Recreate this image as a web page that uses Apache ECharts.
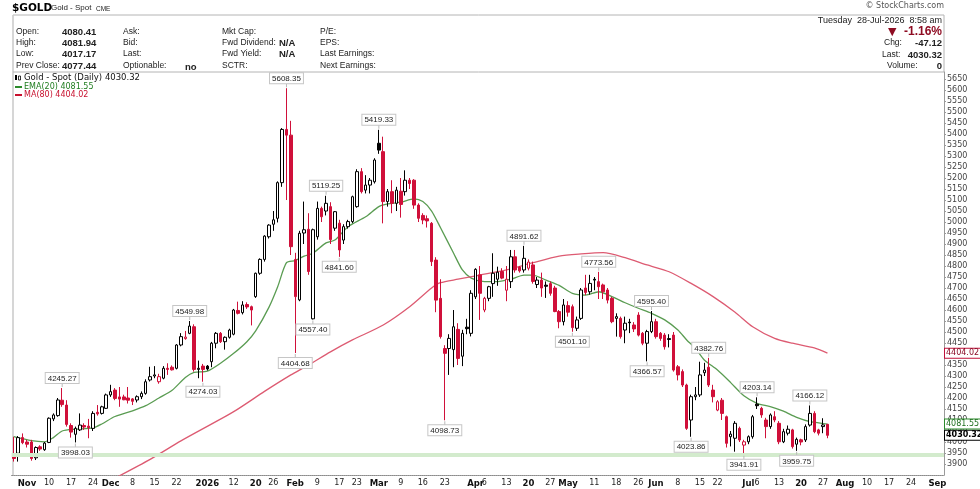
<!DOCTYPE html>
<html>
<head>
<meta charset="utf-8">
<script src="https://cdn.jsdelivr.net/npm/echarts@6.0.0/dist/echarts.min.js"></script>
<style>
  html, body { margin: 0; padding: 0; background: #fff; }
  #chart { width: 980px; height: 489px; }
</style>
</head>
<body>
<div id="chart"></div>
<script>
// trading calendar (weekdays minus US market holidays)
const holidays = ['2025-11-27', '2025-12-25', '2026-01-01', '2026-01-19', '2026-02-16',
  '2026-04-03', '2026-05-25', '2026-06-19', '2026-07-03']
const dayCount = 212
const dates = []
for (let d = new Date(Date.UTC(2025, 9, 29)); dates.length < dayCount; d.setUTCDate(d.getUTCDate() + 1)) {
  const s = d.toISOString().slice(0, 10)
  const wd = d.getUTCDay()
  if (wd === 0 || wd === 6 || holidays.includes(s)) continue
  dates.push(s)
}

const xTicks = [
  ['2025-11-03', 'Nov'], ['2025-11-10', '10'], ['2025-11-17', '17'], ['2025-11-24', '24'],
  ['2025-12-01', 'Dec'], ['2025-12-08', '8'], ['2025-12-15', '15'], ['2025-12-22', '22'],
  ['2026-01-02', '2026'], ['2026-01-12', '12'], ['2026-01-20', '20'], ['2026-01-26', '26'],
  ['2026-02-02', 'Feb'], ['2026-02-09', '9'], ['2026-02-17', '17'], ['2026-02-23', '23'],
  ['2026-03-02', 'Mar'], ['2026-03-09', '9'], ['2026-03-16', '16'], ['2026-03-23', '23'],
  ['2026-04-01', 'Apr'], ['2026-04-06', '6'], ['2026-04-13', '13'], ['2026-04-20', '20'], ['2026-04-27', '27'],
  ['2026-05-01', 'May'], ['2026-05-11', '11'], ['2026-05-18', '18'], ['2026-05-26', '26'],
  ['2026-06-01', 'Jun'], ['2026-06-08', '8'], ['2026-06-15', '15'], ['2026-06-22', '22'],
  ['2026-07-01', 'Jul'], ['2026-07-06', '6'], ['2026-07-13', '13'], ['2026-07-20', '20'], ['2026-07-27', '27'],
  ['2026-08-03', 'Aug'], ['2026-08-10', '10'], ['2026-08-17', '17'], ['2026-08-24', '24'],
  ['2026-09-01', 'Sep'],
]

// daily OHLC, Oct 29 2025 .. Jul 28 2026
const open = [
  3935, 3949, 4020, 4000, 4000, 3928, 3978, 3965, 3998, 4105,
  4120, 4190, 4168, 4075, 4035, 4055, 4075, 4072, 4062, 4135,
  4130, 4153, 4214, 4236, 4205, 4205, 4200, 4196, 4191, 4206,
  4221, 4282, 4300, 4274, 4290, 4335, 4340, 4335, 4441, 4470,
  4494, 4524, 4330, 4345, 4345, 4365, 4449, 4494, 4456, 4476,
  4490, 4598, 4588, 4625, 4615, 4661, 4767, 4830, 4933, 4990,
  5017, 5179, 5421, 5395, 4830, 4646, 4950, 4967, 4560, 4933,
  5062, 5050, 5070, 4972, 4995, 4918, 4979, 5002, 5070, 5229,
  5145, 5168, 5183, 5358, 5320, 5093, 5138, 5085, 5140, 5138,
  5190, 5190, 5077, 5030, 5015, 4994, 4827, 4653, 4425, 4425,
  4420, 4512, 4390, 4522, 4494, 4660, 4760, 4600, 4653, 4720,
  4740, 4775, 4690, 4729, 4842, 4795, 4782, 4790, 4805, 4716,
  4736, 4713, 4720, 4700, 4593, 4547, 4620, 4615, 4517, 4562,
  4700, 4683, 4740, 4729, 4714, 4691, 4653, 4562, 4562, 4509,
  4545, 4532, 4577, 4494, 4449, 4502, 4547, 4494, 4486, 4470,
  4486, 4342, 4320, 4259, 4100, 4206, 4214, 4315, 4340, 4236,
  4145, 4190, 4115, 4024, 4017, 4062, 3986, 4001, 4024, 4172,
  4153, 4100, 4070, 4115, 4085, 4001, 4040, 4055, 3990, 4010,
  4009, 4077, 4130, 4055, 4070, 4080.41,
]
const high = [
  4024, 4027, 4039, 4010, 4010, 3980, 3985, 4000, 4112, 4130,
  4200, 4245.27, 4190, 4085, 4070, 4130, 4085, 4105, 4140, 4168,
  4165, 4220, 4260, 4245, 4250, 4215, 4250, 4200, 4212, 4230,
  4285, 4342, 4345, 4310, 4345, 4358, 4348, 4445, 4495, 4505,
  4549.98, 4535, 4370, 4355, 4350, 4455, 4500, 4500, 4480, 4515,
  4605, 4638, 4640, 4635, 4620, 4770, 4835, 4940, 4990, 5050,
  5185, 5427, 5608.35, 5460, 4860, 4960, 5093, 5040, 4970, 5093,
  5070, 5119.25, 5090, 5050, 5010, 4990, 5010, 5120, 5240, 5245,
  5213, 5200, 5290, 5419.33, 5388, 5150, 5190, 5160, 5200, 5235,
  5200, 5195, 5085, 5040, 5030, 5000, 4840, 4740, 4440, 4490,
  4600, 4540, 4510, 4560, 4690, 4790, 4800, 4660, 4710, 4858,
  4797, 4790, 4800, 4873, 4873, 4800, 4891.62, 4830, 4820, 4750,
  4770, 4730, 4730, 4710, 4600, 4650, 4640, 4625, 4570, 4700,
  4760, 4760, 4750, 4773.56, 4720, 4700, 4660, 4585, 4570, 4570,
  4560, 4545, 4590, 4500, 4510, 4595.40, 4560, 4500, 4495, 4490,
  4500, 4350, 4330, 4265, 4215, 4250, 4365, 4360, 4382.76, 4260,
  4190, 4200, 4120, 4050, 4095, 4070, 4010, 4030, 4123, 4203.14,
  4160, 4110, 4130, 4140, 4095, 4060, 4075, 4060, 4020, 4015,
  4080, 4166.12, 4140, 4060, 4108, 4081.94,
]
const low = [
  3911, 3911, 3990, 3975, 3915, 3918, 3960, 3960, 3995, 4095,
  4115, 4160, 4070, 4020, 3998.03, 4050, 4055, 4017, 4050, 4120,
  4125, 4150, 4205, 4190, 4160, 4190, 4175, 4168, 4180, 4195,
  4215, 4275, 4290, 4265, 4285, 4305, 4325, 4330, 4435, 4465,
  4490, 4320, 4290, 4274.03, 4325, 4340, 4426, 4450, 4420, 4470,
  4485, 4580, 4580, 4605, 4530, 4655, 4760, 4820, 4925, 4960,
  4998, 5160, 5100, 4850, 4404.68, 4640, 4900, 4760, 4557.40, 4920,
  5000, 5030, 4900, 4960, 4841.60, 4900, 4970, 4995, 5065, 5130,
  5130, 5130, 5175, 5310, 4994, 5070, 5040, 5050, 5020, 5120,
  5150, 5060, 5000, 4990, 4975, 4800, 4590, 4470, 4098.73, 4305,
  4340, 4350, 4345, 4490, 4480, 4650, 4555, 4590, 4640, 4660,
  4710, 4740, 4640, 4700, 4770, 4770, 4770, 4780, 4720, 4700,
  4660, 4655, 4665, 4590, 4517, 4530, 4570, 4501.10, 4505, 4555,
  4668, 4670, 4690, 4650, 4650, 4630, 4540, 4479, 4470, 4449,
  4495, 4500, 4480, 4440, 4366.57, 4495, 4470, 4460, 4420, 4430,
  4320, 4280, 4250, 4055, 4023.86, 4190, 4205, 4300, 4250, 4180,
  4140, 4100, 3975, 3980, 3956, 4000, 3941.91, 3990, 4015, 4150,
  4110, 4017, 4060, 4090, 3990, 3995, 4030, 3970, 3959.75, 3985,
  4000, 4070, 4040, 4030, 4040, 4017.17,
]
const close = [
  3925, 4020, 3997, 3990, 3925, 3975, 3968, 3995, 4108, 4123,
  4191, 4170, 4080, 4045, 4062, 4077, 4068, 4065, 4130, 4128,
  4160, 4214, 4229, 4198, 4195, 4192, 4190, 4185, 4206, 4221,
  4274, 4297, 4305, 4297, 4335, 4330, 4328, 4441, 4479, 4477,
  4527, 4330, 4335, 4330, 4332, 4449, 4494, 4456, 4476, 4509,
  4600, 4585, 4623, 4614, 4600, 4767, 4830, 4936, 4986, 5010,
  5179, 5421, 5395, 4888, 4661, 4949, 4965, 4775, 4965, 5062,
  5024, 5085, 4920, 5047, 4873, 4979, 5002, 5115, 5229, 5138,
  5168, 5190, 5282, 5327, 5093, 5138, 5085, 5145, 5080, 5190,
  5175, 5077, 5017, 5009, 5005, 4820, 4645, 4479, 4403, 4471,
  4524, 4380, 4494, 4515, 4676, 4785, 4676, 4653, 4706, 4767,
  4772, 4745, 4740, 4842, 4782, 4778, 4835, 4818, 4730, 4736,
  4700, 4708, 4676, 4593, 4547, 4623, 4590, 4520, 4555, 4691,
  4680, 4721, 4736, 4706, 4683, 4645, 4547, 4570, 4479, 4540,
  4542, 4514, 4486, 4449, 4502, 4547, 4479, 4471, 4433, 4466,
  4327, 4305, 4259, 4062, 4206, 4214, 4305, 4327, 4259, 4206,
  4183, 4130, 3994, 4036, 4085, 4009, 4001, 4024, 4115, 4165,
  4123, 4070, 4123, 4100, 4001, 4047, 4058, 3979, 4012, 4000,
  4070, 4130, 4047, 4040, 4077.44, 4030.32,
]

// EMA(20) and MA(80) as [day index, value]
const ema20 = [
  [0, 4024], [4, 4006], [7, 4001], [9, 4020], [11, 4050], [14, 4058], [18, 4064], [20, 4082],
  [23, 4116], [27, 4142], [30, 4165], [33, 4200], [36, 4235], [39, 4293], [41, 4316], [44, 4322],
  [47, 4358], [50, 4403], [53, 4456], [55, 4505], [58, 4612], [60, 4706], [62, 4815], [64, 4825],
  [66, 4845], [68, 4858], [71, 4905], [73, 4918], [76, 4979], [80, 5024], [83, 5070], [85, 5082],
  [88, 5090], [91, 5105], [93, 5093], [95, 5050], [97, 4975], [100, 4858], [102, 4782], [104, 4745],
  [107, 4729], [110, 4729], [113, 4740], [116, 4759], [118, 4759], [121, 4736], [124, 4712],
  [127, 4676], [130, 4668], [133, 4683], [136, 4661], [139, 4633], [142, 4608], [145, 4585],
  [148, 4555], [151, 4509], [153, 4464], [155, 4425], [157, 4373], [160, 4327], [163, 4270],
  [166, 4210], [169, 4176], [172, 4161], [175, 4140], [178, 4112], [181, 4093], [185, 4081.55],
]
const ma80 = [
  [22, 3825], [31, 3921], [38, 4005], [50, 4138], [57, 4230], [63, 4305], [67, 4350], [72, 4410],
  [77, 4464], [84, 4532], [90, 4615], [95, 4700], [97, 4724], [101, 4740], [106, 4759], [112, 4782],
  [118, 4815], [124, 4845], [129, 4855], [134, 4861], [139, 4838], [144, 4805], [149, 4774],
  [154, 4721], [159, 4661], [164, 4590], [168, 4524], [173, 4471], [177, 4449], [182, 4428],
  [185, 4404.02],
]

const supportLevel = 3942
const peakIdx = [11, 40, 62, 71, 83, 116, 133, 145, 158, 169, 181]
const troughIdx = [14, 43, 64, 68, 74, 98, 127, 144, 154, 166, 178]

const RED = '#d0103a'
const GREEN_LINE = '#5a9c52'
const RED_LINE = '#dd5b72'
const last = close.length - 1
const fmt = (v) => Number(v).toFixed(2)

const candles = open.map((o, i) => {
  const c = close[i]
  const prev = i > 0 ? close[i - 1] : o
  const col = c >= prev ? '#000' : RED
  const fill = c > o ? '#fff' : col
  return {
    value: [o, c, low[i], high[i]],
    itemStyle: { color: fill, color0: fill, borderColor: col, borderColor0: col, borderWidth: 1 },
  }
})

const tickMap = Object.fromEntries(xTicks)
const chg = close[last] - close[last - 1]
const pct = (chg / close[last - 1]) * 100

const chart = echarts.init(document.getElementById('chart'))

const T = (x, y, text, extra = {}) => ({
  type: 'text', x, y, silent: true,
  style: Object.assign({
    text, fill: '#222', font: '8.5px "Liberation Sans", Arial',
    align: 'left', verticalAlign: 'middle',
  }, extra),
})
const B = 'bold 9.5px "Liberation Sans", Arial'
const L = (x1, y1, x2, y2, color = '#b4b4b4', w = 1) => ({
  type: 'line', silent: true, shape: { x1, y1, x2, y2 }, style: { stroke: color, lineWidth: w },
})

const tag = (value, border, color, bold) => ({
  yAxis: value,
  lineStyle: { color: 'rgba(0,0,0,0)', width: 1 },
  label: {
    show: true, position: 'end', distance: 1,
    formatter: () => fmt(value),
    color, fontSize: 8, fontWeight: bold ? 'bold' : 'normal',
    fontFamily: 'DejaVu Sans',
    backgroundColor: '#fff', borderColor: border, borderWidth: 1, padding: [1, 1, 0, 1],
  },
})

chart.setOption({
  animation: false,
  backgroundColor: '#fff',
  grid: { left: 11.6, right: 36, top: 72, bottom: 14 },
  xAxis: {
    type: 'category',
    data: dates,
    boundaryGap: true,
    axisLine: { lineStyle: { color: '#8a8a8a', type: 'dotted' } },
    axisTick: { show: false },
    splitLine: { show: false },
    axisLabel: {
      interval: (idx, val) => tickMap[val] !== undefined,
      hideOverlap: false,
      formatter: (val) => {
        const t = tickMap[val] || ''
        return /^[A-Z]|^20/.test(t) ? `{m|${t}}` : t
      },
      fontSize: 8, fontFamily: 'DejaVu Sans', color: '#222', margin: 4,
      rich: { m: { fontSize: 8.5, fontWeight: 'bold', fontFamily: 'DejaVu Sans', color: '#111' } },
    },
  },
  yAxis: {
    type: 'value',
    position: 'right',
    min: 3850,
    max: 5682,
    interval: 50,
    axisLine: { show: true, lineStyle: { color: '#9a9a9a' } },
    axisTick: { show: true, length: 2, lineStyle: { color: '#9a9a9a' } },
    splitLine: { show: false },
    axisLabel: {
      formatter: (v) => String(v),
      fontSize: 8, fontFamily: 'DejaVu Sans', color: '#444', margin: 3,
      showMinLabel: false, showMaxLabel: false,
    },
  },
  series: [
    {
      type: 'candlestick',
      data: candles,
      barWidth: 3,
      z: 3,
      markLine: {
        silent: true, symbol: 'none', animation: false,
        data: [
          { yAxis: supportLevel, lineStyle: { color: '#d3ebcd', width: 4, type: 'solid' }, label: { show: false } },
          tag(close[last], '#000', '#000', true),
        ],
      },
      markPoint: {
        silent: true, animation: false,
        symbol: 'rect', symbolSize: [1, 4],
        itemStyle: { color: '#b8b8b8' },
        label: {
          show: true,
          formatter: (p) => fmt(p.value),
          fontSize: 8, fontFamily: 'Liberation Sans', color: '#222', lineHeight: 9,
          backgroundColor: '#fff', borderColor: '#c6c6c6', borderWidth: 1, padding: [1, 2, 0, 2],
        },
        data: [
          ...peakIdx.map((i) => ({
            coord: [dates[i], high[i]], value: high[i], symbolOffset: [0, -3],
            label: { position: 'top', distance: 0 },
          })),
          ...troughIdx.map((i) => ({
            coord: [dates[i], low[i]], value: low[i], symbolOffset: [0, 3],
            label: { position: 'bottom', distance: 0 },
          })),
        ],
      },
    },
    {
      type: 'line',
      name: 'EMA(20)',
      data: ema20,
      symbol: 'none',
      smooth: 0.25,
      connectNulls: true,
      z: 2,
      lineStyle: { color: GREEN_LINE, width: 1.3 },
      markLine: {
        silent: true, symbol: 'none', animation: false,
        data: [tag(ema20[ema20.length - 1][1], '#2b8a2b', '#1d6e1d', false)],
      },
    },
    {
      type: 'line',
      name: 'MA(80)',
      data: ma80,
      symbol: 'none',
      smooth: 0.25,
      connectNulls: true,
      z: 2,
      lineStyle: { color: RED_LINE, width: 1.3 },
      markLine: {
        silent: true, symbol: 'none', animation: false,
        data: [tag(ma80[ma80.length - 1][1], '#c0103a', '#8a0a25', false)],
      },
    },
  ],
  graphic: [
    // frame
    L(13, 15, 944, 15), L(13, 15, 13, 475, '#c8c8c8', 1.5), L(944, 15, 944, 72), L(13, 72, 944, 72),
    // title
    T(12, 8, '$GOLD', { font: 'bold 10.5px "DejaVu Sans", Verdana', fill: '#000' }),
    T(51, 8, 'Gold - Spot', { font: '8px "Liberation Sans", Arial' }),
    T(96, 9, 'CME', { font: '6.5px "Liberation Sans", Arial' }),
    T(944, 6, '\u00a9 StockCharts.com', { align: 'right', font: '8px "DejaVu Sans", Verdana', fill: '#555' }),
    // quote table
    T(16, 32, 'Open:'), T(62, 32, fmt(open[last]), { font: B }),
    T(16, 43, 'High:'), T(62, 43, fmt(high[last]), { font: B }),
    T(16, 54, 'Low:'), T(62, 54, fmt(low[last]), { font: B }),
    T(16, 66, 'Prev Close:'), T(62, 66, fmt(close[last - 1]), { font: B }),
    T(123, 32, 'Ask:'), T(123, 43, 'Bid:'), T(123, 54, 'Last:'), T(123, 66, 'Optionable:'),
    T(185, 67, 'no', { font: B }),
    T(222, 32, 'Mkt Cap:'), T(222, 43, 'Fwd Dividend:'), T(279, 43, 'N/A', { font: B }),
    T(222, 54, 'Fwd Yield:'), T(279, 54, 'N/A', { font: B }), T(222, 66, 'SCTR:'),
    T(320, 32, 'P/E:'), T(320, 43, 'EPS:'), T(320, 54, 'Last Earnings:'), T(320, 66, 'Next Earnings:'),
    T(942, 21, 'Tuesday  28-Jul-2026  8:58 am', { align: 'right', font: '9px "Liberation Sans", Arial' }),
    T(888, 32, '\u25bc', { font: '11px "DejaVu Sans"', fill: '#8e0c22' }),
    T(942, 32, pct.toFixed(2) + '%', { align: 'right', font: 'bold 12px "Liberation Sans", Arial', fill: '#8e0c22' }),
    T(884, 43, 'Chg:'), T(942, 43, chg.toFixed(2), { align: 'right', font: B }),
    T(882, 55, 'Last:'), T(942, 55, fmt(close[last]), { align: 'right', font: B }),
    T(887, 66, 'Volume:'), T(942, 66, '0', { align: 'right', font: B }),
    // chart legend
    { type: 'rect', silent: true, shape: { x: 15, y: 75, width: 2, height: 5 }, style: { fill: '#000' } },
    { type: 'rect', silent: true, shape: { x: 18.5, y: 76, width: 2, height: 4 }, style: { fill: '#fff', stroke: '#000', lineWidth: 0.8 } },
    T(24, 78, 'Gold - Spot (Daily) ' + fmt(close[last]), { font: '8.5px "DejaVu Sans", Verdana', fill: '#111' }),
    L(15, 87, 22, 87, '#2b8a2b', 2),
    T(24, 87, 'EMA(20) ' + fmt(ema20[ema20.length - 1][1]), { font: '8px "DejaVu Sans", Verdana', fill: '#1f7d1f' }),
    L(15, 95, 22, 95, '#c8102e', 2),
    T(24, 95, 'MA(80) ' + fmt(ma80[ma80.length - 1][1]), { font: '8px "DejaVu Sans", Verdana', fill: '#c8102e' }),
  ],
})
</script>
</body>
</html>
